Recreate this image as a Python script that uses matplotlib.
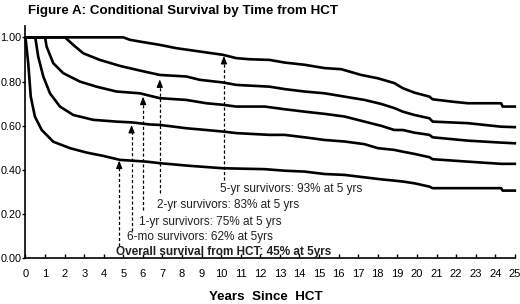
import matplotlib
matplotlib.use("Agg")
import matplotlib.pyplot as plt

plt.rcParams['font.family'] = ['Liberation Sans', 'DejaVu Sans']

# Conditional survival curves (years since HCT, survival probability)
overall_yrs = [0, 0.14, 0.27, 0.48, 0.83, 1.42, 2.27, 3.12, 3.97, 4.82, 6.18, 6.86, 8.39,
               10.09, 12.22, 13.24, 14.26, 15.28, 16.3, 17.32, 18.17, 18.85, 19.28, 19.87,
               20.64, 20.8, 21.83, 24.3, 24.38, 25]
overall_surv = [1.0, 0.883, 0.732, 0.642, 0.581, 0.528, 0.499, 0.479, 0.464, 0.446, 0.438,
                0.431, 0.419, 0.408, 0.404, 0.397, 0.393, 0.382, 0.378, 0.367, 0.358, 0.352,
                0.348, 0.34, 0.325, 0.318, 0.318, 0.318, 0.307, 0.307]

mo6_yrs = [0, 0.5, 0.65, 0.91, 1.25, 1.76, 2.44, 3.46, 4.65, 5.5, 6.35, 6.86, 8.22, 9.24,
           10.09, 10.77, 12.47, 13.24, 14.26, 15.28, 16.3, 17.32, 18.0, 18.85, 19.28, 19.87,
           20.64, 20.8, 22.59, 24.3, 25]
mo6_surv = [1.0, 1.0, 0.913, 0.823, 0.747, 0.687, 0.649, 0.627, 0.619, 0.615, 0.606, 0.604,
            0.589, 0.581, 0.574, 0.567, 0.559, 0.559, 0.548, 0.536, 0.529, 0.517, 0.499,
            0.491, 0.483, 0.473, 0.458, 0.449, 0.438, 0.428, 0.428]

yr1_yrs = [0, 1.0, 1.08, 1.42, 1.93, 2.78, 3.63, 4.65, 5.84, 6.86, 8.22, 9.24, 10.09, 10.77,
           12.22, 13.24, 14.26, 15.28, 16.3, 17.32, 18.17, 18.85, 19.28, 19.87, 20.64, 20.8,
           22.59, 24.3, 25]
yr1_surv = [1.0, 1.0, 0.958, 0.883, 0.838, 0.80, 0.777, 0.755, 0.747, 0.725, 0.717, 0.702,
            0.695, 0.687, 0.687, 0.675, 0.664, 0.654, 0.642, 0.619, 0.60, 0.581, 0.581,
            0.569, 0.559, 0.548, 0.533, 0.524, 0.521]

yr2_yrs = [0, 2.02, 2.44, 2.95, 3.8, 4.82, 5.84, 6.86, 8.22, 8.9, 10.09, 10.77, 12.47, 13.24,
           14.26, 15.28, 16.3, 17.32, 18.17, 18.85, 19.28, 19.87, 20.64, 20.8, 22.59, 24.3, 25]
yr2_surv = [1.0, 1.0, 0.966, 0.928, 0.898, 0.871, 0.85, 0.83, 0.823, 0.808, 0.796, 0.785,
            0.777, 0.766, 0.755, 0.747, 0.732, 0.717, 0.699, 0.68, 0.664, 0.649, 0.634,
            0.619, 0.612, 0.596, 0.594]

yr5_yrs = [0, 5.0, 5.33, 5.84, 6.86, 7.71, 8.9, 10.09, 10.77, 11.45, 12.47, 13.24, 14.26,
           15.28, 16.13, 17.15, 18.0, 18.85, 19.28, 19.87, 20.64, 20.8, 21.83, 22.59, 24.3,
           24.38, 25]
yr5_surv = [1.0, 1.0, 0.989, 0.981, 0.966, 0.951, 0.936, 0.921, 0.906, 0.901, 0.898, 0.886,
            0.876, 0.861, 0.856, 0.83, 0.815, 0.793, 0.77, 0.75, 0.732, 0.72, 0.709, 0.702,
            0.702, 0.687, 0.687]

# annotations: text, text position, arrow x, arrow bottom/top
labels = ["5-yr survivors: 93% at 5 yrs", "2-yr survivors: 83% at 5 yrs",
          "1-yr survivors: 75% at 5 yrs", "6-mo survivors: 62% at 5yrs",
          "Overall survival from HCT: 45% at 5yrs"]
label_x = [9.92, 6.71, 5.79, 5.18, 4.62]
label_y = [0.314, 0.242, 0.165, 0.097, 0.03]
arrow_x = [10.14, 6.86, 6.01, 5.42, 4.79]
arrow_lo = [0.355, 0.295, 0.219, 0.123, 0.058]
arrow_hi = [0.916, 0.81, 0.732, 0.604, 0.443]

fig = plt.figure(figsize=(5.2, 3.04), dpi=100)
ax = fig.add_axes([0.049, 0.1497, 0.941, 0.7638])

for xs, ys in [(overall_yrs, overall_surv), (mo6_yrs, mo6_surv), (yr1_yrs, yr1_surv),
               (yr2_yrs, yr2_surv), (yr5_yrs, yr5_surv)]:
    ax.plot(xs, ys, color='black', lw=1.9, solid_joinstyle='round', clip_on=False)

for x, lo, hi in zip(arrow_x, arrow_lo, arrow_hi):
    ax.plot([x, x], [lo, hi - 0.02], color='black', lw=0.9, dashes=(2.5, 1.8))
    ax.annotate('', xy=(x, hi), xytext=(x, hi - 0.03),
                arrowprops=dict(arrowstyle='-|>,head_length=0.45,head_width=0.18',
                                color='black', lw=0.9, shrinkA=0, shrinkB=0))

for i, (t, x, y) in enumerate(zip(labels, label_x, label_y)):
    ax.text(x, y, t, fontsize=8.5, va='center', ha='left', color='#202020',
            fontweight='bold' if i == 4 else 'normal')

ax.set_xlim(0, 25)
ax.set_ylim(0, 1.05)
ax.set_xticks(range(0, 26))
ax.set_yticks([0, 0.2, 0.4, 0.6, 0.8, 1.0])
ax.set_yticklabels(['%.2f' % v for v in [0, 0.2, 0.4, 0.6, 0.8, 1.0]])
ax.tick_params(axis='x', direction='in', length=3, width=1, labelsize=8, pad=7.5)
ax.tick_params(axis='y', direction='out', length=2.5, width=1, labelsize=7.8, pad=0.5)
for s in ['top', 'right']:
    ax.spines[s].set_visible(False)
for s in ['left', 'bottom']:
    ax.spines[s].set_linewidth(1.2)

fig.text(0.054, 0.965, 'Figure A: Conditional Survival by Time from HCT',
         fontsize=9.6, fontweight='bold', va='center', ha='left')
fig.text(0.511, 0.024, 'Years  Since  HCT', fontsize=9.6, fontweight='bold',
         va='center', ha='center')

fig.savefig('out.png', dpi=100)
